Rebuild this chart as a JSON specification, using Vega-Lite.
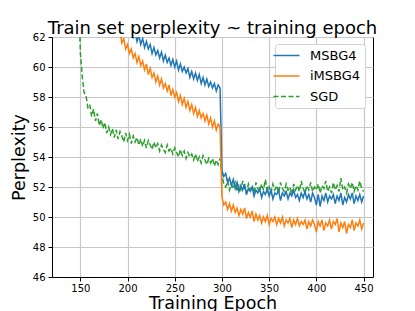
{
"$schema":"https://vega.github.io/schema/vega-lite/v6.json",
"width":321,"height":240,
"autosize":{"type":"none"},
"padding":{"left":52,"top":37,"right":42,"bottom":34},
"config":{"font":"DejaVu Sans","view":{"stroke":"black","strokeWidth":1},
"axis":{"domainColor":"black","tickColor":"black","tickSize":4,"labelFontSize":10,"labelColor":"black","titleFontSize":17.5,"titleFontWeight":"normal","titleColor":"black","gridColor":"#c8c8c8","gridWidth":1.2},
"legend":{"title":null,"orient":"none","legendX":223,"legendY":7,"fillColor":"white","strokeColor":"#d0d0d0","cornerRadius":3,"padding":4,"symbolType":"M-2,0H2","symbolSize":169,"symbolStrokeWidth":1.5,"labelFontSize":13,"labelColor":"black","labelOffset":16,"rowPadding":5.5}},
"title":{"text":"Train set perplexity ~ training epoch","fontSize":18,"fontWeight":"normal","color":"black","anchor":"middle","offset":-6},
"data":{"values":[
{"e":146,"s":"SGD","v":72},{"e":148,"s":"SGD","v":66},{"e":150,"s":"SGD","v":61.0},{"e":152,"s":"SGD","v":59.4},{"e":154,"s":"SGD","v":58.3},{"e":156,"s":"SGD","v":58.1},{"e":158,"s":"SGD","v":57.3},{"e":160,"s":"SGD","v":57.5},{"e":162,"s":"SGD","v":56.7},{"e":164,"s":"SGD","v":57.2},{"e":166,"s":"SGD","v":56.4},{"e":168,"s":"SGD","v":56.9},{"e":170,"s":"SGD","v":56.1},{"e":172,"s":"SGD","v":56.5},{"e":174,"s":"SGD","v":55.9},{"e":176,"s":"SGD","v":56.3},{"e":178,"s":"SGD","v":55.6},{"e":180,"s":"SGD","v":56.0},{"e":182,"s":"SGD","v":55.5},{"e":184,"s":"SGD","v":55.9},{"e":186,"s":"SGD","v":55.3},{"e":188,"s":"SGD","v":55.8},{"e":190,"s":"SGD","v":55.2},{"e":192,"s":"SGD","v":55.7},{"e":194,"s":"SGD","v":55.4},{"e":196,"s":"SGD","v":55.0},{"e":198,"s":"SGD","v":55.6},{"e":200,"s":"SGD","v":55.1},{"e":202,"s":"SGD","v":55.5},{"e":204,"s":"SGD","v":54.9},{"e":206,"s":"SGD","v":55.4},{"e":208,"s":"SGD","v":55.0},{"e":210,"s":"SGD","v":55.3},{"e":212,"s":"SGD","v":54.8},{"e":214,"s":"SGD","v":55.2},{"e":216,"s":"SGD","v":54.7},{"e":218,"s":"SGD","v":55.1},{"e":220,"s":"SGD","v":54.6},{"e":222,"s":"SGD","v":55.1},{"e":224,"s":"SGD","v":54.8},{"e":226,"s":"SGD","v":54.5},{"e":228,"s":"SGD","v":55.0},{"e":230,"s":"SGD","v":54.6},{"e":232,"s":"SGD","v":54.9},{"e":234,"s":"SGD","v":54.4},{"e":236,"s":"SGD","v":54.8},{"e":238,"s":"SGD","v":54.5},{"e":240,"s":"SGD","v":54.3},{"e":242,"s":"SGD","v":54.8},{"e":244,"s":"SGD","v":54.4},{"e":246,"s":"SGD","v":54.6},{"e":248,"s":"SGD","v":54.2},{"e":250,"s":"SGD","v":54.6},{"e":252,"s":"SGD","v":54.3},{"e":254,"s":"SGD","v":54.0},{"e":256,"s":"SGD","v":54.5},{"e":258,"s":"SGD","v":54.1},{"e":260,"s":"SGD","v":54.4},{"e":262,"s":"SGD","v":53.9},{"e":264,"s":"SGD","v":54.3},{"e":266,"s":"SGD","v":54.0},{"e":268,"s":"SGD","v":54.2},{"e":270,"s":"SGD","v":53.8},{"e":272,"s":"SGD","v":54.2},{"e":274,"s":"SGD","v":53.7},{"e":276,"s":"SGD","v":54.0},{"e":278,"s":"SGD","v":53.6},{"e":280,"s":"SGD","v":54.1},{"e":282,"s":"SGD","v":53.8},{"e":284,"s":"SGD","v":53.5},{"e":286,"s":"SGD","v":53.9},{"e":288,"s":"SGD","v":53.6},{"e":290,"s":"SGD","v":53.9},{"e":292,"s":"SGD","v":53.4},{"e":294,"s":"SGD","v":53.8},{"e":296,"s":"SGD","v":53.5},{"e":298,"s":"SGD","v":53.9},{"e":300,"s":"SGD","v":52.8},{"e":302,"s":"SGD","v":52.2},{"e":304,"s":"SGD","v":52.0},{"e":306,"s":"SGD","v":52.4},{"e":308,"s":"SGD","v":51.8},{"e":310,"s":"SGD","v":52.2},{"e":312,"s":"SGD","v":51.9},{"e":314,"s":"SGD","v":52.3},{"e":316,"s":"SGD","v":51.7},{"e":318,"s":"SGD","v":52.1},{"e":320,"s":"SGD","v":51.8},{"e":322,"s":"SGD","v":52.4},{"e":324,"s":"SGD","v":51.9},{"e":326,"s":"SGD","v":51.6},{"e":328,"s":"SGD","v":52.2},{"e":330,"s":"SGD","v":51.8},{"e":332,"s":"SGD","v":52.1},{"e":334,"s":"SGD","v":51.6},{"e":336,"s":"SGD","v":52.3},{"e":338,"s":"SGD","v":51.9},{"e":340,"s":"SGD","v":51.7},{"e":342,"s":"SGD","v":52.2},{"e":344,"s":"SGD","v":51.8},{"e":346,"s":"SGD","v":52.5},{"e":348,"s":"SGD","v":51.7},{"e":350,"s":"SGD","v":52.0},{"e":352,"s":"SGD","v":51.6},{"e":354,"s":"SGD","v":52.2},{"e":356,"s":"SGD","v":51.8},{"e":358,"s":"SGD","v":52.1},{"e":360,"s":"SGD","v":51.6},{"e":362,"s":"SGD","v":52.3},{"e":364,"s":"SGD","v":51.9},{"e":366,"s":"SGD","v":51.7},{"e":368,"s":"SGD","v":52.2},{"e":370,"s":"SGD","v":51.8},{"e":372,"s":"SGD","v":52.0},{"e":374,"s":"SGD","v":51.5},{"e":376,"s":"SGD","v":52.2},{"e":378,"s":"SGD","v":51.8},{"e":380,"s":"SGD","v":52.1},{"e":382,"s":"SGD","v":51.7},{"e":384,"s":"SGD","v":52.4},{"e":386,"s":"SGD","v":51.9},{"e":388,"s":"SGD","v":51.6},{"e":390,"s":"SGD","v":52.1},{"e":392,"s":"SGD","v":51.8},{"e":394,"s":"SGD","v":52.3},{"e":396,"s":"SGD","v":51.7},{"e":398,"s":"SGD","v":52.0},{"e":400,"s":"SGD","v":51.8},{"e":402,"s":"SGD","v":52.2},{"e":404,"s":"SGD","v":51.6},{"e":406,"s":"SGD","v":52.1},{"e":408,"s":"SGD","v":51.9},{"e":410,"s":"SGD","v":52.4},{"e":412,"s":"SGD","v":51.7},{"e":414,"s":"SGD","v":52.0},{"e":416,"s":"SGD","v":51.6},{"e":418,"s":"SGD","v":52.3},{"e":420,"s":"SGD","v":51.8},{"e":422,"s":"SGD","v":52.1},{"e":424,"s":"SGD","v":51.7},{"e":426,"s":"SGD","v":52.6},{"e":428,"s":"SGD","v":51.8},{"e":430,"s":"SGD","v":52.0},{"e":432,"s":"SGD","v":51.6},{"e":434,"s":"SGD","v":52.2},{"e":436,"s":"SGD","v":51.9},{"e":438,"s":"SGD","v":52.3},{"e":440,"s":"SGD","v":51.7},{"e":442,"s":"SGD","v":52.1},{"e":444,"s":"SGD","v":51.8},{"e":446,"s":"SGD","v":52.4},{"e":448,"s":"SGD","v":51.9},{"e":450,"s":"SGD","v":51.7},
{"e":198,"s":"MSBG4","v":63.5},{"e":200,"s":"MSBG4","v":62.9},{"e":202,"s":"MSBG4","v":62.4},{"e":204,"s":"MSBG4","v":62.7},{"e":206,"s":"MSBG4","v":61.9},{"e":208,"s":"MSBG4","v":62.3},{"e":210,"s":"MSBG4","v":61.7},{"e":212,"s":"MSBG4","v":62.1},{"e":214,"s":"MSBG4","v":61.5},{"e":216,"s":"MSBG4","v":61.9},{"e":218,"s":"MSBG4","v":61.3},{"e":220,"s":"MSBG4","v":61.7},{"e":222,"s":"MSBG4","v":61.2},{"e":224,"s":"MSBG4","v":61.5},{"e":226,"s":"MSBG4","v":60.9},{"e":228,"s":"MSBG4","v":61.3},{"e":230,"s":"MSBG4","v":60.8},{"e":232,"s":"MSBG4","v":61.1},{"e":234,"s":"MSBG4","v":60.6},{"e":236,"s":"MSBG4","v":61.0},{"e":238,"s":"MSBG4","v":60.4},{"e":240,"s":"MSBG4","v":60.8},{"e":242,"s":"MSBG4","v":60.3},{"e":244,"s":"MSBG4","v":60.6},{"e":246,"s":"MSBG4","v":60.1},{"e":248,"s":"MSBG4","v":60.5},{"e":250,"s":"MSBG4","v":60.0},{"e":252,"s":"MSBG4","v":60.4},{"e":254,"s":"MSBG4","v":59.8},{"e":256,"s":"MSBG4","v":60.2},{"e":258,"s":"MSBG4","v":59.7},{"e":260,"s":"MSBG4","v":60.0},{"e":262,"s":"MSBG4","v":59.6},{"e":264,"s":"MSBG4","v":59.9},{"e":266,"s":"MSBG4","v":59.3},{"e":268,"s":"MSBG4","v":59.7},{"e":270,"s":"MSBG4","v":59.2},{"e":272,"s":"MSBG4","v":59.6},{"e":274,"s":"MSBG4","v":59.1},{"e":276,"s":"MSBG4","v":59.5},{"e":278,"s":"MSBG4","v":58.9},{"e":280,"s":"MSBG4","v":59.3},{"e":282,"s":"MSBG4","v":58.8},{"e":284,"s":"MSBG4","v":59.2},{"e":286,"s":"MSBG4","v":58.7},{"e":288,"s":"MSBG4","v":59.0},{"e":290,"s":"MSBG4","v":58.6},{"e":292,"s":"MSBG4","v":58.9},{"e":294,"s":"MSBG4","v":58.4},{"e":296,"s":"MSBG4","v":58.8},{"e":298,"s":"MSBG4","v":58.6},{"e":300,"s":"MSBG4","v":53.1},{"e":302,"s":"MSBG4","v":52.7},{"e":304,"s":"MSBG4","v":52.9},{"e":306,"s":"MSBG4","v":52.3},{"e":308,"s":"MSBG4","v":52.6},{"e":310,"s":"MSBG4","v":52.1},{"e":312,"s":"MSBG4","v":52.5},{"e":314,"s":"MSBG4","v":51.9},{"e":316,"s":"MSBG4","v":52.3},{"e":318,"s":"MSBG4","v":51.7},{"e":320,"s":"MSBG4","v":52.1},{"e":322,"s":"MSBG4","v":51.8},{"e":324,"s":"MSBG4","v":52.2},{"e":326,"s":"MSBG4","v":51.5},{"e":328,"s":"MSBG4","v":51.9},{"e":330,"s":"MSBG4","v":51.7},{"e":332,"s":"MSBG4","v":52.0},{"e":334,"s":"MSBG4","v":51.4},{"e":336,"s":"MSBG4","v":51.8},{"e":338,"s":"MSBG4","v":51.6},{"e":340,"s":"MSBG4","v":51.9},{"e":342,"s":"MSBG4","v":51.3},{"e":344,"s":"MSBG4","v":51.7},{"e":346,"s":"MSBG4","v":51.5},{"e":348,"s":"MSBG4","v":51.9},{"e":350,"s":"MSBG4","v":51.4},{"e":352,"s":"MSBG4","v":51.8},{"e":354,"s":"MSBG4","v":51.2},{"e":356,"s":"MSBG4","v":51.6},{"e":358,"s":"MSBG4","v":51.5},{"e":360,"s":"MSBG4","v":51.8},{"e":362,"s":"MSBG4","v":51.1},{"e":364,"s":"MSBG4","v":51.6},{"e":366,"s":"MSBG4","v":51.4},{"e":368,"s":"MSBG4","v":51.7},{"e":370,"s":"MSBG4","v":51.2},{"e":372,"s":"MSBG4","v":51.6},{"e":374,"s":"MSBG4","v":51.4},{"e":376,"s":"MSBG4","v":51.8},{"e":378,"s":"MSBG4","v":51.3},{"e":380,"s":"MSBG4","v":51.5},{"e":382,"s":"MSBG4","v":51.1},{"e":384,"s":"MSBG4","v":51.6},{"e":386,"s":"MSBG4","v":51.3},{"e":388,"s":"MSBG4","v":51.7},{"e":390,"s":"MSBG4","v":51.2},{"e":392,"s":"MSBG4","v":51.5},{"e":394,"s":"MSBG4","v":51.0},{"e":396,"s":"MSBG4","v":51.6},{"e":398,"s":"MSBG4","v":51.3},{"e":400,"s":"MSBG4","v":50.8},{"e":402,"s":"MSBG4","v":51.5},{"e":404,"s":"MSBG4","v":50.7},{"e":406,"s":"MSBG4","v":51.4},{"e":408,"s":"MSBG4","v":51.1},{"e":410,"s":"MSBG4","v":51.6},{"e":412,"s":"MSBG4","v":51.0},{"e":414,"s":"MSBG4","v":51.4},{"e":416,"s":"MSBG4","v":51.2},{"e":418,"s":"MSBG4","v":51.5},{"e":420,"s":"MSBG4","v":50.9},{"e":422,"s":"MSBG4","v":51.4},{"e":424,"s":"MSBG4","v":51.1},{"e":426,"s":"MSBG4","v":51.6},{"e":428,"s":"MSBG4","v":50.8},{"e":430,"s":"MSBG4","v":51.3},{"e":432,"s":"MSBG4","v":51.0},{"e":434,"s":"MSBG4","v":51.5},{"e":436,"s":"MSBG4","v":51.2},{"e":438,"s":"MSBG4","v":51.6},{"e":440,"s":"MSBG4","v":50.9},{"e":442,"s":"MSBG4","v":51.4},{"e":444,"s":"MSBG4","v":51.1},{"e":446,"s":"MSBG4","v":51.5},{"e":448,"s":"MSBG4","v":51.0},{"e":450,"s":"MSBG4","v":51.4},
{"e":184,"s":"iMSBG4","v":63.5},{"e":186,"s":"iMSBG4","v":62.6},{"e":188,"s":"iMSBG4","v":62.9},{"e":190,"s":"iMSBG4","v":62.1},{"e":192,"s":"iMSBG4","v":62.4},{"e":194,"s":"iMSBG4","v":61.6},{"e":196,"s":"iMSBG4","v":61.9},{"e":198,"s":"iMSBG4","v":61.2},{"e":200,"s":"iMSBG4","v":61.5},{"e":202,"s":"iMSBG4","v":60.9},{"e":204,"s":"iMSBG4","v":61.2},{"e":206,"s":"iMSBG4","v":60.6},{"e":208,"s":"iMSBG4","v":60.9},{"e":210,"s":"iMSBG4","v":60.3},{"e":212,"s":"iMSBG4","v":60.7},{"e":214,"s":"iMSBG4","v":60.1},{"e":216,"s":"iMSBG4","v":60.4},{"e":218,"s":"iMSBG4","v":59.8},{"e":220,"s":"iMSBG4","v":60.2},{"e":222,"s":"iMSBG4","v":59.5},{"e":224,"s":"iMSBG4","v":59.9},{"e":226,"s":"iMSBG4","v":59.3},{"e":228,"s":"iMSBG4","v":59.6},{"e":230,"s":"iMSBG4","v":59.0},{"e":232,"s":"iMSBG4","v":59.4},{"e":234,"s":"iMSBG4","v":58.8},{"e":236,"s":"iMSBG4","v":59.2},{"e":238,"s":"iMSBG4","v":58.6},{"e":240,"s":"iMSBG4","v":58.9},{"e":242,"s":"iMSBG4","v":58.4},{"e":244,"s":"iMSBG4","v":58.8},{"e":246,"s":"iMSBG4","v":58.1},{"e":248,"s":"iMSBG4","v":58.5},{"e":250,"s":"iMSBG4","v":58.0},{"e":252,"s":"iMSBG4","v":58.3},{"e":254,"s":"iMSBG4","v":57.7},{"e":256,"s":"iMSBG4","v":58.1},{"e":258,"s":"iMSBG4","v":57.5},{"e":260,"s":"iMSBG4","v":57.9},{"e":262,"s":"iMSBG4","v":57.3},{"e":264,"s":"iMSBG4","v":57.7},{"e":266,"s":"iMSBG4","v":57.1},{"e":268,"s":"iMSBG4","v":57.5},{"e":270,"s":"iMSBG4","v":56.9},{"e":272,"s":"iMSBG4","v":57.3},{"e":274,"s":"iMSBG4","v":56.7},{"e":276,"s":"iMSBG4","v":57.1},{"e":278,"s":"iMSBG4","v":56.6},{"e":280,"s":"iMSBG4","v":56.9},{"e":282,"s":"iMSBG4","v":56.4},{"e":284,"s":"iMSBG4","v":56.8},{"e":286,"s":"iMSBG4","v":56.2},{"e":288,"s":"iMSBG4","v":56.6},{"e":290,"s":"iMSBG4","v":56.0},{"e":292,"s":"iMSBG4","v":56.4},{"e":294,"s":"iMSBG4","v":55.8},{"e":296,"s":"iMSBG4","v":56.2},{"e":298,"s":"iMSBG4","v":56.0},{"e":300,"s":"iMSBG4","v":51.3},{"e":302,"s":"iMSBG4","v":50.8},{"e":304,"s":"iMSBG4","v":51.0},{"e":306,"s":"iMSBG4","v":50.5},{"e":308,"s":"iMSBG4","v":50.9},{"e":310,"s":"iMSBG4","v":50.4},{"e":312,"s":"iMSBG4","v":50.8},{"e":314,"s":"iMSBG4","v":50.3},{"e":316,"s":"iMSBG4","v":50.6},{"e":318,"s":"iMSBG4","v":50.1},{"e":320,"s":"iMSBG4","v":50.5},{"e":322,"s":"iMSBG4","v":50.2},{"e":324,"s":"iMSBG4","v":50.6},{"e":326,"s":"iMSBG4","v":49.9},{"e":328,"s":"iMSBG4","v":50.3},{"e":330,"s":"iMSBG4","v":50.0},{"e":332,"s":"iMSBG4","v":50.4},{"e":334,"s":"iMSBG4","v":49.7},{"e":336,"s":"iMSBG4","v":50.2},{"e":338,"s":"iMSBG4","v":49.8},{"e":340,"s":"iMSBG4","v":50.1},{"e":342,"s":"iMSBG4","v":49.6},{"e":344,"s":"iMSBG4","v":50.0},{"e":346,"s":"iMSBG4","v":49.7},{"e":348,"s":"iMSBG4","v":50.1},{"e":350,"s":"iMSBG4","v":49.5},{"e":352,"s":"iMSBG4","v":49.9},{"e":354,"s":"iMSBG4","v":49.7},{"e":356,"s":"iMSBG4","v":50.0},{"e":358,"s":"iMSBG4","v":49.5},{"e":360,"s":"iMSBG4","v":49.9},{"e":362,"s":"iMSBG4","v":49.6},{"e":364,"s":"iMSBG4","v":50.0},{"e":366,"s":"iMSBG4","v":49.4},{"e":368,"s":"iMSBG4","v":49.8},{"e":370,"s":"iMSBG4","v":49.6},{"e":372,"s":"iMSBG4","v":49.9},{"e":374,"s":"iMSBG4","v":49.3},{"e":376,"s":"iMSBG4","v":49.8},{"e":378,"s":"iMSBG4","v":49.5},{"e":380,"s":"iMSBG4","v":49.9},{"e":382,"s":"iMSBG4","v":49.4},{"e":384,"s":"iMSBG4","v":49.7},{"e":386,"s":"iMSBG4","v":49.5},{"e":388,"s":"iMSBG4","v":49.8},{"e":390,"s":"iMSBG4","v":49.2},{"e":392,"s":"iMSBG4","v":49.7},{"e":394,"s":"iMSBG4","v":49.4},{"e":396,"s":"iMSBG4","v":49.8},{"e":398,"s":"iMSBG4","v":49.5},{"e":400,"s":"iMSBG4","v":49.0},{"e":402,"s":"iMSBG4","v":49.7},{"e":404,"s":"iMSBG4","v":49.4},{"e":406,"s":"iMSBG4","v":49.8},{"e":408,"s":"iMSBG4","v":49.1},{"e":410,"s":"iMSBG4","v":49.6},{"e":412,"s":"iMSBG4","v":49.4},{"e":414,"s":"iMSBG4","v":49.8},{"e":416,"s":"iMSBG4","v":49.2},{"e":418,"s":"iMSBG4","v":49.7},{"e":420,"s":"iMSBG4","v":49.5},{"e":422,"s":"iMSBG4","v":49.9},{"e":424,"s":"iMSBG4","v":49.0},{"e":426,"s":"iMSBG4","v":49.6},{"e":428,"s":"iMSBG4","v":49.3},{"e":430,"s":"iMSBG4","v":49.7},{"e":432,"s":"iMSBG4","v":48.9},{"e":434,"s":"iMSBG4","v":49.5},{"e":436,"s":"iMSBG4","v":49.3},{"e":438,"s":"iMSBG4","v":49.8},{"e":440,"s":"iMSBG4","v":49.1},{"e":442,"s":"iMSBG4","v":49.6},{"e":444,"s":"iMSBG4","v":49.4},{"e":446,"s":"iMSBG4","v":49.8},{"e":448,"s":"iMSBG4","v":49.2},{"e":450,"s":"iMSBG4","v":49.6}
]},
"mark":{"type":"line","clip":true,"strokeWidth":1.5},
"encoding":{
"x":{"field":"e","type":"quantitative","scale":{"domain":[120,460],"nice":false,"zero":false},"axis":{"values":[150,200,250,300,350,400,450],"title":"Training Epoch","labelPadding":2,"titlePadding":1}},
"y":{"field":"v","type":"quantitative","scale":{"domain":[46,62],"nice":false,"zero":false},"axis":{"values":[46,48,50,52,54,56,58,60,62],"title":"Perplexity","labelPadding":3,"titlePadding":4}},
"color":{"field":"s","type":"nominal","scale":{"domain":["MSBG4","iMSBG4","SGD"],"range":["#1f77b4","#ff7f0e","#2ca02c"]},"legend":{}},
"strokeDash":{"field":"s","type":"nominal","scale":{"domain":["MSBG4","iMSBG4","SGD"],"range":[[1,0],[1,0],[5,2.5]]},"legend":{}}
}
}
